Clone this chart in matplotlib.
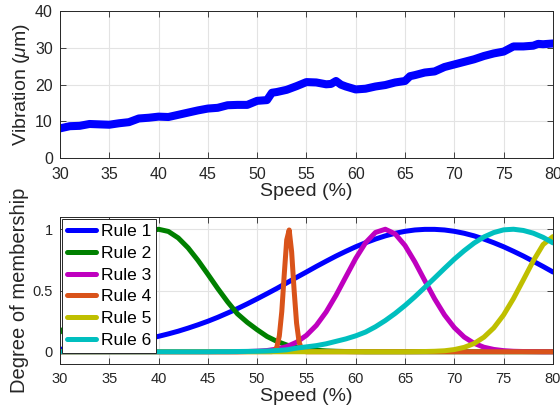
import numpy as np
import matplotlib
matplotlib.use('Agg')
import matplotlib.pyplot as plt

plt.rcParams['font.family'] = ['Liberation Sans', 'DejaVu Sans']
plt.rcParams['mathtext.fontset'] = 'custom'
plt.rcParams['mathtext.rm'] = 'Liberation Sans'
plt.rcParams['mathtext.it'] = 'Liberation Sans:italic'

# %% DATA
# top panel: vibration vs speed
speed_vib = [30, 31, 32, 33, 34, 35, 36, 37, 38, 39, 40, 41, 42, 43, 44, 45, 46, 47,
             48, 49, 50, 51, 51.5, 52, 53, 54, 55, 56, 57, 57.5, 58, 58.5, 59, 60,
             61, 62, 63, 64, 65, 65.5, 66, 67, 68, 69, 70, 71, 72, 73, 74, 75, 76,
             77, 78, 78.5, 79, 80]
vibration = [8.1, 8.7, 8.8, 9.3, 9.2, 9.1, 9.5, 9.8, 10.8, 11.0, 11.3, 11.2, 11.8, 12.4,
             13.0, 13.5, 13.7, 14.4, 14.5, 14.5, 15.6, 15.8, 17.8, 18.0, 18.6, 19.6,
             20.7, 20.6, 20.1, 20.2, 21.0, 20.0, 19.5, 18.7, 18.9, 19.5, 19.9, 20.6,
             21.0, 22.3, 22.6, 23.3, 23.6, 24.8, 25.5, 26.2, 26.9, 27.8, 28.5, 29.0,
             30.4, 30.4, 30.6, 31.1, 31.0, 31.2]

# bottom panel: membership functions
speed = list(range(30, 81))
rule1 = [0.020, 0.026, 0.032, 0.038, 0.046, 0.055, 0.066, 0.078, 0.092, 0.108,
         0.126, 0.146, 0.168, 0.193, 0.220, 0.249, 0.281, 0.316, 0.352, 0.391,
         0.432, 0.474, 0.517, 0.562, 0.607, 0.651, 0.696, 0.739, 0.781, 0.820,
         0.857, 0.890, 0.920, 0.946, 0.967, 0.983, 0.994, 0.999, 0.999, 0.994,
         0.983, 0.967, 0.946, 0.920, 0.890, 0.857, 0.820, 0.781, 0.739, 0.696, 0.651]
rule2 = [0.160, 0.227, 0.310, 0.408, 0.517, 0.633, 0.746, 0.848, 0.929, 0.982,
         1.000, 0.982, 0.929, 0.848, 0.746, 0.633, 0.517, 0.408, 0.310, 0.240,
         0.180, 0.125, 0.085, 0.055, 0.035, 0.020, 0.012, 0.007, 0.004, 0.002,
         0.001, 0, 0, 0, 0, 0, 0, 0, 0, 0,
         0, 0, 0, 0, 0, 0, 0, 0, 0, 0, 0]
rule3 = [0, 0, 0, 0, 0, 0, 0, 0, 0, 0,
         0, 0, 0, 0, 0, 0, 0, 0, 0, 0.002,
         0.005, 0.010, 0.022, 0.042, 0.078, 0.134, 0.215, 0.325, 0.461, 0.612,
         0.762, 0.890, 0.974, 1.000, 0.962, 0.867, 0.733, 0.581, 0.432, 0.301,
         0.197, 0.120, 0.069, 0.037, 0.019, 0.009, 0.004, 0.002, 0.001, 0, 0]
speed4 = [30, 51.5, 51.75, 52.0, 52.25, 52.5, 52.75, 53.0, 53.25, 53.5, 53.75,
          54.0, 54.25, 54.5, 54.75, 55, 80]
rule4 = [0, 0.001, 0.008, 0.038, 0.129, 0.328, 0.631, 0.913, 0.994, 0.815, 0.503,
         0.234, 0.082, 0.021, 0.004, 0, 0]
rule5 = [0, 0, 0, 0, 0, 0, 0, 0, 0, 0,
         0, 0, 0, 0, 0, 0, 0, 0, 0, 0,
         0, 0, 0, 0, 0, 0, 0, 0, 0, 0,
         0, 0, 0, 0, 0, 0, 0.001, 0.002, 0.004, 0.008,
         0.018, 0.036, 0.067, 0.119, 0.195, 0.301, 0.435, 0.587, 0.741, 0.875, 0.940]
rule6 = [0, 0, 0, 0, 0, 0, 0, 0, 0, 0,
         0, 0, 0, 0, 0, 0, 0.001, 0.001, 0.002, 0.003,
         0.004, 0.006, 0.010, 0.016, 0.030, 0.040, 0.050, 0.065, 0.085, 0.105,
         0.130, 0.161, 0.204, 0.255, 0.313, 0.378, 0.449, 0.525, 0.602, 0.680,
         0.756, 0.825, 0.887, 0.937, 0.973, 0.995, 1.000, 0.990, 0.968, 0.934, 0.889]

rule_names = ['Rule 1', 'Rule 2', 'Rule 3', 'Rule 4', 'Rule 5', 'Rule 6']
rule_colors = ['#0000ff', '#008000', '#bf00bf', '#d9531a', '#bfbf00', '#00bfbf']

xticks = list(range(30, 81, 5))
ax_col = '#262626'

# %% FIGURE
fig = plt.figure(figsize=(5.6, 4.13), dpi=100)
ax1 = fig.add_axes([0.107, 0.617, 0.8804, 0.356])
ax2 = fig.add_axes([0.107, 0.1186, 0.8804, 0.356])


def style(ax, fs):
    ax.set_xlim(30, 80)
    ax.set_xticks(xticks)
    ax.grid(True, color='#e3e3e3', lw=0.8)
    ax.set_axisbelow(True)
    ax.tick_params(direction='in', length=4, width=0.6, colors=ax_col,
                   top=True, right=True, labelsize=fs)
    ax.tick_params(axis='x', pad=6)
    ax.tick_params(axis='y', pad=5)
    for s in ax.spines.values():
        s.set_color(ax_col)
        s.set_linewidth(0.7)


# top
ax1.plot(speed_vib, vibration, color='#0000ff', lw=5.8,
         solid_joinstyle='round', solid_capstyle='round')
style(ax1, 11.5)
ax1.set_ylim(0, 40)
ax1.set_yticks([0, 10, 20, 30, 40])
ax1.set_xlabel('Speed (%)', fontsize=14, color=ax_col, labelpad=1)
ax1.set_ylabel(r'Vibration ($\mu$m)', fontsize=14, color=ax_col)
ax1.yaxis.set_label_coords(-0.057, 0.5)

# bottom
ys = [rule1, rule2, rule3, rule4, rule5, rule6]
for i in range(6):
    xs = speed4 if i == 3 else speed
    ax2.plot(xs, ys[i], color=rule_colors[i], lw=3.6, label=rule_names[i],
             solid_joinstyle='round', solid_capstyle='round')
style(ax2, 10.5)
ax2.set_ylim(-0.1, 1.1)
ax2.set_yticks([0, 0.5, 1])
ax2.set_yticklabels(['0', '0.5', '1'])
ax2.set_xlabel('Speed (%)', fontsize=14, color=ax_col, labelpad=1)
ax2.set_ylabel('Degree of membership', fontsize=14.5, color=ax_col)
ax2.yaxis.set_label_coords(-0.063, 0.5)

leg = ax2.legend(loc='upper left', fontsize=12.5, borderaxespad=0.1, borderpad=0.3,
                 handlelength=1.7, handletextpad=0.25, labelspacing=0.38,
                 fancybox=False, framealpha=1, edgecolor=ax_col)
leg.get_frame().set_linewidth(0.7)

fig.savefig('out.png', dpi=100)
